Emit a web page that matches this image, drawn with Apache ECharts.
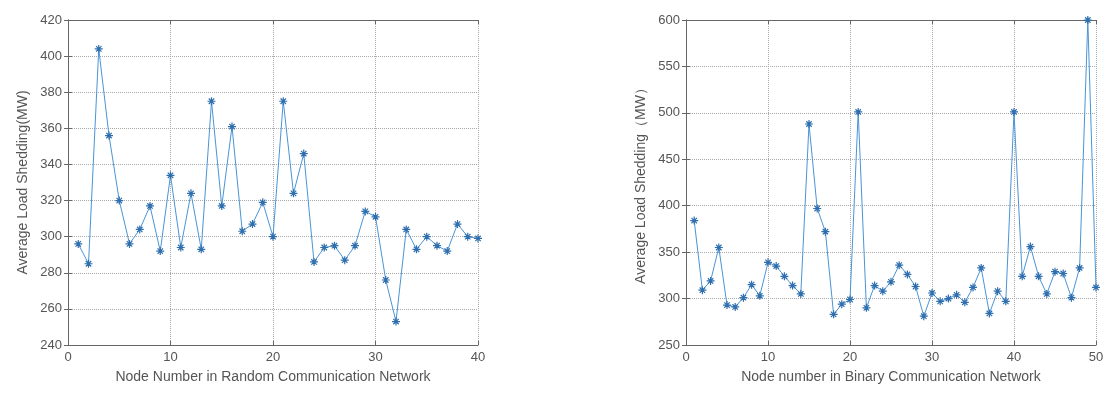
<!DOCTYPE html>
<html>
<head>
<meta charset="utf-8">
<script src="https://cdn.jsdelivr.net/npm/echarts@6/dist/echarts.min.js"></script>
<style>
    html, body { margin: 0; padding: 0; background: #fff; }
    #chart { width: 1108px; height: 394px; }
</style>
</head>
<body>
<div id="chart"></div>
<script>
// random communication network, nodes 1..40
const randomNodes = [1,2,3,4,5,6,7,8,9,10,11,12,13,14,15,16,17,18,19,20,
    21,22,23,24,25,26,27,28,29,30,31,32,33,34,35,36,37,38,39,40];
const randomShedding = [296,285,404,356,320,296,304,317,292,334,294,324,293,375,317,361,303,307,319,300,
    375,324,346,286,294,295,287,295,314,311,276,253,304,293,300,295,292,307,300,299];

// binary communication network, nodes 1..50
const binaryNodes = [1,2,3,4,5,6,7,8,9,10,11,12,13,14,15,16,17,18,19,20,
    21,22,23,24,25,26,27,28,29,30,31,32,33,34,35,36,37,38,39,40,
    41,42,43,44,45,46,47,48,49,50];
const binaryShedding = [384,309,319,355,293,291,301,315,303,339,335,324,314,305,488,397,372,283,294,299,
    501,290,314,308,318,336,326,313,281,306,297,300,304,296,312,333,284,308,297,501,
    324,356,324,305,329,327,301,333,600,312];

const leftTicks = [240, 420, 20];
const rightTicks = [250, 600, 50];

const textColor = '#555';
const fontFamily = 'Liberation Sans, Arial, sans-serif';
const lineColor = '#4a94d6';
const markColor = '#2f6fae';
const star = 'path://M5,0L5,10M0,5L10,5M1.6,1.6L8.4,8.4M8.4,1.6L1.6,8.4';

function pairs(xs, ys) {
    return xs.map((x, i) => [x, ys[i]]);
}

function mainX(idx, max, name) {
    return {
        type: 'value', gridIndex: idx, min: 0, max: max, interval: 10,
        name: name, nameLocation: 'middle', nameGap: 25,
        nameTextStyle: { color: textColor, fontSize: 14, fontFamily: fontFamily },
        axisLine: { show: true, lineStyle: { color: '#666' } },
        axisTick: { inside: true, length: 4, lineStyle: { color: '#666' } },
        axisLabel: { color: textColor, fontSize: 13, fontFamily: fontFamily, margin: 6 },
        splitLine: { show: true, lineStyle: { type: 'dotted', color: '#aaa' } }
    };
}
function topX(idx, max) {
    return {
        type: 'value', gridIndex: idx, position: 'top', min: 0, max: max, interval: 10,
        axisLine: { show: true, lineStyle: { color: '#666' } },
        axisTick: { inside: true, length: 4, lineStyle: { color: '#666' } },
        axisLabel: { show: false }, splitLine: { show: false }
    };
}
function mainY(idx, t, name) {
    return {
        type: 'value', gridIndex: idx, min: t[0], max: t[1], interval: t[2],
        name: name, nameLocation: 'middle', nameGap: 38,
        nameTextStyle: { color: textColor, fontSize: 14, fontFamily: fontFamily },
        axisLine: { show: true, lineStyle: { color: '#666' } },
        axisTick: { show: true, inside: true, length: 4, lineStyle: { color: '#666' } },
        axisLabel: { color: textColor, fontSize: 13, fontFamily: fontFamily, margin: 6 },
        splitLine: { show: true, lineStyle: { type: 'dotted', color: '#aaa' } }
    };
}
function rightY(idx, t) {
    return {
        type: 'value', gridIndex: idx, position: 'right', min: t[0], max: t[1], interval: t[2],
        axisLine: { show: true, lineStyle: { color: '#666' } },
        axisTick: { show: true, inside: true, length: 4, lineStyle: { color: '#666' } },
        axisLabel: { show: false }, splitLine: { show: false }
    };
}
function lineSeries(xi, yi, data) {
    return {
        type: 'line', xAxisIndex: xi, yAxisIndex: yi, data: data,
        symbol: star, symbolSize: 8, showAllSymbol: true,
        lineStyle: { color: lineColor, width: 1 },
        itemStyle: { color: markColor, borderColor: markColor, borderWidth: 1.2 },
        clip: false, animation: false
    };
}

let myChart = echarts.init(document.getElementById('chart'));
let option = {
    backgroundColor: '#fff',
    grid: [
        { left: 68, top: 20, width: 410, height: 325 },
        { left: 686, top: 20, width: 410, height: 325 }
    ],
    xAxis: [
        mainX(0, 40, 'Node Number in Random Communication Network'),
        topX(0, 40),
        mainX(1, 50, 'Node number in Binary Communication Network'),
        topX(1, 50)
    ],
    yAxis: [
        mainY(0, leftTicks, 'Average Load Shedding(MW)'),
        rightY(0, leftTicks),
        mainY(1, rightTicks, 'Average Load Shedding（MW）'),
        rightY(1, rightTicks)
    ],
    series: [
        lineSeries(0, 0, pairs(randomNodes, randomShedding)),
        lineSeries(2, 2, pairs(binaryNodes, binaryShedding))
    ]
};
myChart.setOption(option);
</script>
</body>
</html>
